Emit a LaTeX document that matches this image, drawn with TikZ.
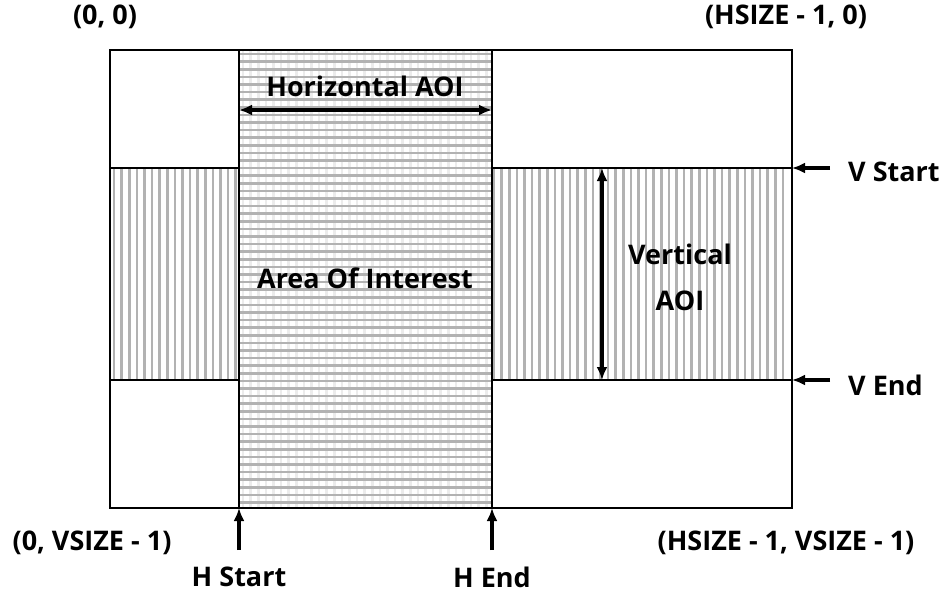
\documentclass[tikz,border=0pt]{standalone}
\usepackage{fontspec}
\setmainfont{Open Sans}
\usetikzlibrary{arrows.meta}

\begin{document}
\begin{tikzpicture}[x=1pt,y=-1pt,>={Latex[length=13pt,width=11pt]},
  lbl/.style={font=\fontsize{27}{30}\selectfont\bfseries,inner sep=0pt},
  hatch/.style={gray!60,line width=2.6pt},
  faint/.style={gray!15,line width=2.6pt},
  frame/.style={line width=2.6pt},
  ptr/.style={->,line width=3.4pt}]
\useasboundingbox (0,0) rectangle (940,592);
% hatching of the two bands
\foreach \x in {114,121.6,...,790} \draw[hatch] (\x,168) -- (\x,380);
\fill[white] (239,50) rectangle (492,508);
\foreach \x in {243,250.6,...,490} \draw[faint] (\x,50) -- (\x,508);
\foreach \y in {54,61.6,...,506} \draw[hatch] (239,\y) -- (492,\y);
% frame
\coordinate (tl) at (110,50);
\coordinate (br) at (792,508);
\coordinate (hs) at (239,508);
\coordinate (he) at (492,508);
\coordinate (vs) at (792,168);
\coordinate (ve) at (792,380);
\draw[frame] (tl) rectangle (br);
\draw[frame] (239,50) -- (hs);
\draw[frame] (492,50) -- (he);
\draw[frame] (110,168) -- (239,168) (492,168) -- (vs);
\draw[frame] (110,380) -- (239,380) (492,380) -- (ve);
% labels
\node[lbl](org)at(105,17){(0, 0)};
\node[lbl](hmax)at(786,17){(HSIZE - 1, 0)};
\node[lbl](vmax)at(92,543){(0, VSIZE - 1)};
\node[lbl](both)at(786,543){(HSIZE - 1, VSIZE - 1)};
\node[lbl](haoi)at(365,86){Horizontal AOI};
\node[lbl](area)at(365,278){Area Of Interest};
\node[lbl](vert)at(680,254){Vertical};
\node[lbl](vaoi)at(680,301){AOI};
\node[lbl,anchor=west](vstart)at(848,172){V Start};
\node[lbl,anchor=west](vend)at(848,385){V End};
\node[lbl](hstart)at(239,577){H Start};
\node[lbl](hend)at(492,577){H End};
% arrows
\coordinate (a1) at (239,110);
\coordinate (a2) at (492,110);
\coordinate (b1) at (602,168);
\coordinate (b2) at (602,380);
\draw[ptr,<->] (a1) -- (a2);
\draw[ptr,<->] (b1) -- (b2);
\draw[ptr] (239,550) -- (hs);
\draw[ptr] (492,550) -- (he);
\draw[ptr] (830,168) -- (vs);
\draw[ptr] (830,380) -- (ve);
\end{tikzpicture}
\end{document}
